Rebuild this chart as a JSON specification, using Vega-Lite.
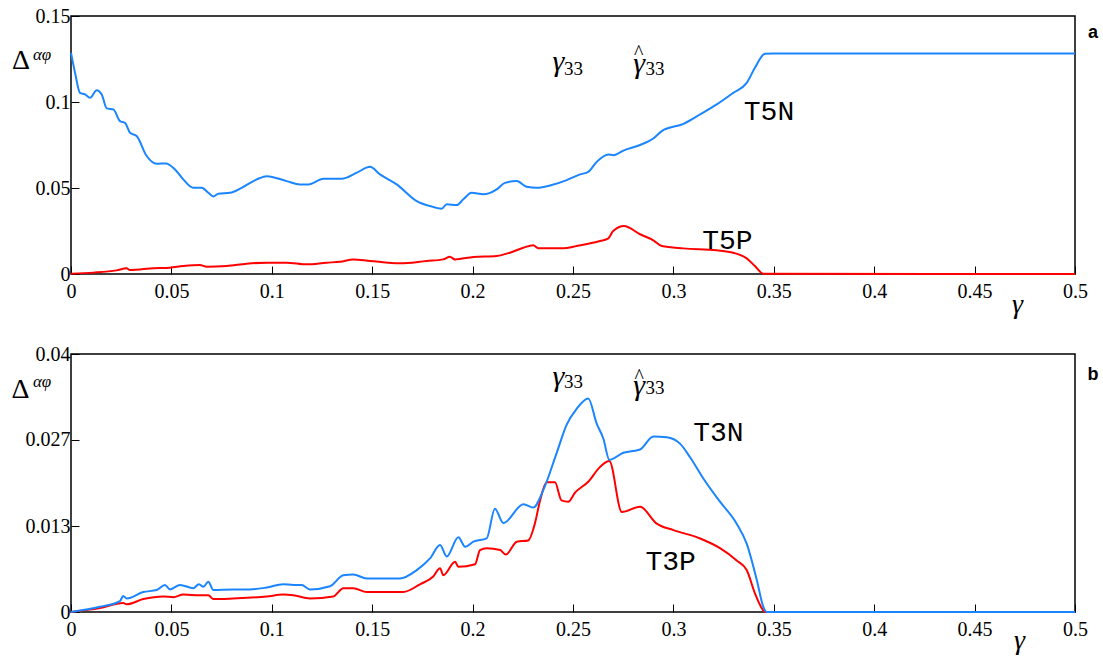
{
  "$schema": "https://vega.github.io/schema/vega-lite/v6.json",
  "padding": {"left": 10, "top": 5, "right": 5, "bottom": 5},
  "spacing": 80,
  "bounds": "flush",
  "config": {
    "font": "Liberation Serif",
    "view": {"stroke": "black", "strokeWidth": 1.5},
    "axis": {"labelFont": "Liberation Serif", "labelFontSize": 20, "labelColor": "black", "tickColor": "black", "tickWidth": 1, "domain": false, "grid": false, "labelFlush": false},
    "line": {"interpolate": "monotone", "strokeWidth": 2}
  },
  "vconcat": [
    {
      "width": 1004,
      "height": 258,
      "encoding": {
        "x": {"field": "g", "type": "quantitative", "scale": {"domain": [0, 0.5], "nice": false, "zero": false},
              "axis": {"labelFont": "Liberation Serif", "values": [0,0.05,0.1,0.15,0.2,0.25,0.3,0.35,0.4,0.45,0.5], "format": ".2~f", "tickSize": -8, "labelPadding": 15,
                       "title": "γ", "titleFont": "Liberation Serif", "titleFontStyle": "italic", "titleFontWeight": "normal", "titleFontSize": 28, "titleColor": "black", "titleX": 946, "titleY": 30, "titleBaseline": "middle", "titleAlign": "center"}},
        "y": {"field": "d", "type": "quantitative", "scale": {"domain": [0, 0.15], "nice": false},
              "axis": {"labelFont": "Liberation Serif", "values": [0,0.05,0.1,0.15], "format": ".2~f", "tickSize": -8, "labelPadding": 9, "title": null}}
      },
      "layer": [
        {"data": {"values": [{"g": 0.2577}, {"g": 0.2752}]}, "mark": {"type": "rule", "color": "#ff33ff", "strokeDash": [3, 2], "strokeWidth": 1.2}, "encoding": {"y": {"datum": 0}, "y2": {"datum": 0.15}}},
        {"data": {"values": [{"g":0,"d":0.0002},{"g":0.0111,"d":0.0008},{"g":0.0227,"d":0.0021},{"g":0.0277,"d":0.0033},{"g":0.0294,"d":0.0023},{"g":0.041,"d":0.0033},{"g":0.0493,"d":0.0037},{"g":0.0559,"d":0.0046},{"g":0.0642,"d":0.0052},{"g":0.0676,"d":0.0042},{"g":0.0775,"d":0.0046},{"g":0.0875,"d":0.006},{"g":0.0975,"d":0.0066},{"g":0.1074,"d":0.0066},{"g":0.1174,"d":0.0056},{"g":0.1273,"d":0.0066},{"g":0.134,"d":0.0071},{"g":0.1406,"d":0.0085},{"g":0.1489,"d":0.0076},{"g":0.1638,"d":0.0062},{"g":0.1771,"d":0.0076},{"g":0.1854,"d":0.0085},{"g":0.1887,"d":0.01},{"g":0.1912,"d":0.0085},{"g":0.2004,"d":0.0099},{"g":0.212,"d":0.0105},{"g":0.2186,"d":0.0124},{"g":0.2253,"d":0.0153},{"g":0.2302,"d":0.0167},{"g":0.2327,"d":0.0149},{"g":0.2452,"d":0.0149},{"g":0.2518,"d":0.0163},{"g":0.2576,"d":0.0176},{"g":0.2635,"d":0.0192},{"g":0.2676,"d":0.0207},{"g":0.27,"d":0.025},{"g":0.2754,"d":0.0279},{"g":0.2834,"d":0.0231},{"g":0.29,"d":0.0196},{"g":0.2942,"d":0.0163},{"g":0.305,"d":0.0149},{"g":0.3216,"d":0.0138},{"g":0.3298,"d":0.0124},{"g":0.3365,"d":0.0091},{"g":0.3406,"d":0.0046},{"g":0.3448,"d":0.0002},{"g":0.5,"d":0}]}, "mark": {"type": "line", "color": "#ff0000"}},
        {"data": {"values": [{"g":0,"d":0.1286},{"g":0.002,"d":0.117},{"g":0.0045,"d":0.1053},{"g":0.007,"d":0.1044},{"g":0.0095,"d":0.1024},{"g":0.0128,"d":0.1069},{"g":0.0153,"d":0.1044},{"g":0.0178,"d":0.0963},{"g":0.0211,"d":0.0957},{"g":0.0244,"d":0.0889},{"g":0.0269,"d":0.0879},{"g":0.0294,"d":0.0821},{"g":0.0327,"d":0.0802},{"g":0.0377,"d":0.0686},{"g":0.0427,"d":0.0641},{"g":0.0473,"d":0.0643},{"g":0.0518,"d":0.0608},{"g":0.0559,"d":0.055},{"g":0.0609,"d":0.0501},{"g":0.0651,"d":0.0501},{"g":0.0684,"d":0.0472},{"g":0.0709,"d":0.0451},{"g":0.0734,"d":0.0467},{"g":0.0792,"d":0.0472},{"g":0.085,"d":0.0501},{"g":0.0925,"d":0.055},{"g":0.0975,"d":0.0569},{"g":0.1074,"d":0.054},{"g":0.114,"d":0.0521},{"g":0.1182,"d":0.0521},{"g":0.1257,"d":0.0554},{"g":0.1348,"d":0.0554},{"g":0.1423,"d":0.0589},{"g":0.1489,"d":0.0623},{"g":0.1539,"d":0.0579},{"g":0.1622,"d":0.0521},{"g":0.1722,"d":0.0424},{"g":0.1788,"d":0.0395},{"g":0.1846,"d":0.038},{"g":0.1871,"d":0.0405},{"g":0.1921,"d":0.0401},{"g":0.1954,"d":0.0434},{"g":0.1995,"d":0.0472},{"g":0.2053,"d":0.0463},{"g":0.212,"d":0.0492},{"g":0.2161,"d":0.053},{"g":0.222,"d":0.054},{"g":0.2269,"d":0.0507},{"g":0.2319,"d":0.0501},{"g":0.2394,"d":0.0517},{"g":0.2469,"d":0.0546},{"g":0.2535,"d":0.0579},{"g":0.2576,"d":0.0594},{"g":0.2618,"d":0.0652},{"g":0.2676,"d":0.0695},{"g":0.27,"d":0.0691},{"g":0.2754,"d":0.0719},{"g":0.2834,"d":0.075},{"g":0.29,"d":0.0788},{"g":0.2942,"d":0.0831},{"g":0.305,"d":0.0873},{"g":0.3133,"d":0.0928},{"g":0.3216,"d":0.0986},{"g":0.3298,"d":0.1053},{"g":0.3365,"d":0.1111},{"g":0.3406,"d":0.1199},{"g":0.3456,"d":0.128},{"g":0.3498,"d":0.1282},{"g":0.5,"d":0.1282}]}, "mark": {"type": "line", "color": "#1a85ff"}},
        {"data": {"values": [{"g": 0.3476, "d": 0.0943, "t": "T5N"}, {"g": 0.3269, "d": 0.0192, "t": "T5P"}]},
         "mark": {"type": "text", "font": "Liberation Mono", "fontSize": 28, "color": "black", "align": "center", "baseline": "middle"}, "encoding": {"text": {"field": "t"}}},
        {"data": {"values": [{"g": 0.2427, "d": 0.1232, "t": "γ"}, {"g": 0.2829, "d": 0.122, "t": "γ"}]},
         "mark": {"type": "text", "font": "Liberation Serif", "fontStyle": "italic", "fontSize": 30, "color": "black", "align": "center", "baseline": "middle"}, "encoding": {"text": {"field": "t"}}},
        {"data": {"values": [{"g": 0.2827, "d": 0.1286, "t": "^"}]},
         "mark": {"type": "text", "font": "Liberation Serif", "fontSize": 20, "color": "black", "align": "center", "baseline": "middle"}, "encoding": {"text": {"field": "t"}}},
        {"data": {"values": [{"g": 0.2502, "d": 0.1194, "t": "33"}, {"g": 0.2908, "d": 0.1194, "t": "33"}]},
         "mark": {"type": "text", "font": "Liberation Serif", "fontSize": 19, "color": "black", "align": "center", "baseline": "middle"}, "encoding": {"text": {"field": "t"}}},
        {"data": {"values": [{"g": -0.0249, "d": 0.1238, "t": "Δ"}]},
         "mark": {"type": "text", "font": "Liberation Serif", "fontSize": 28, "color": "black", "align": "center", "baseline": "middle"}, "encoding": {"text": {"field": "t"}}},
        {"data": {"values": [{"g": -0.0144, "d": 0.1272, "t": "αφ"}]},
         "mark": {"type": "text", "font": "Liberation Serif", "fontStyle": "italic", "fontSize": 17, "color": "black", "align": "center", "baseline": "middle"}, "encoding": {"text": {"field": "t"}}},
        {"data": {"values": [{"g": 0.509, "d": 0.14, "t": "a"}]},
         "mark": {"type": "text", "font": "Liberation Sans", "fontWeight": "bold", "fontSize": 18, "color": "black", "align": "center", "baseline": "middle"}, "encoding": {"text": {"field": "t"}}}
      ]
    },
    {
      "width": 1004,
      "height": 258,
      "encoding": {
        "x": {"field": "g", "type": "quantitative", "scale": {"domain": [0, 0.5], "nice": false, "zero": false},
              "axis": {"labelFont": "Liberation Serif", "values": [0,0.05,0.1,0.15,0.2,0.25,0.3,0.35,0.4,0.45,0.5], "format": ".2~f", "tickSize": -8, "labelPadding": 15,
                       "title": "γ", "titleFont": "Liberation Serif", "titleFontStyle": "italic", "titleFontWeight": "normal", "titleFontSize": 28, "titleColor": "black", "titleX": 948, "titleY": 28, "titleBaseline": "middle", "titleAlign": "center"}},
        "y": {"field": "d", "type": "quantitative", "scale": {"domain": [0, 0.04], "nice": false},
              "axis": {"labelFont": "Liberation Serif", "values": [0, 0.013333, 0.026667, 0.04], "format": ".3~f", "tickSize": -8, "labelPadding": 9, "title": null}}
      },
      "layer": [
        {"data": {"values": [{"g": 0.2577}, {"g": 0.2752}]}, "mark": {"type": "rule", "color": "#ff33ff", "strokeDash": [3, 2], "strokeWidth": 1.2}, "encoding": {"y": {"datum": 0}, "y2": {"datum": 0.04}}},
        {"data": {"values": [{"g":0,"d":0},{"g":0.0144,"d":0.0006},{"g":0.026,"d":0.0014},{"g":0.0277,"d":0.0012},{"g":0.036,"d":0.002},{"g":0.046,"d":0.0024},{"g":0.051,"d":0.0023},{"g":0.0559,"d":0.0027},{"g":0.0642,"d":0.0026},{"g":0.0684,"d":0.0026},{"g":0.0709,"d":0.002},{"g":0.0808,"d":0.0021},{"g":0.0975,"d":0.0024},{"g":0.1057,"d":0.0027},{"g":0.1107,"d":0.0026},{"g":0.119,"d":0.0021},{"g":0.1306,"d":0.0024},{"g":0.1356,"d":0.0037},{"g":0.1406,"d":0.0037},{"g":0.1473,"d":0.0031},{"g":0.1655,"d":0.0031},{"g":0.1738,"d":0.0043},{"g":0.1804,"d":0.0055},{"g":0.1838,"d":0.0068},{"g":0.1854,"d":0.0057},{"g":0.1913,"d":0.0078},{"g":0.1929,"d":0.007},{"g":0.2012,"d":0.0074},{"g":0.2037,"d":0.0096},{"g":0.207,"d":0.0099},{"g":0.2137,"d":0.0096},{"g":0.2166,"d":0.0089},{"g":0.222,"d":0.0109},{"g":0.2277,"d":0.0111},{"g":0.231,"d":0.0137},{"g":0.2336,"d":0.0173},{"g":0.2369,"d":0.0201},{"g":0.241,"d":0.0201},{"g":0.2443,"d":0.0173},{"g":0.2476,"d":0.0171},{"g":0.251,"d":0.0185},{"g":0.2576,"d":0.0202},{"g":0.2635,"d":0.0225},{"g":0.2681,"d":0.0234},{"g":0.2743,"d":0.0155},{"g":0.2834,"d":0.0163},{"g":0.2917,"d":0.0137},{"g":0.3,"d":0.0127},{"g":0.3133,"d":0.0114},{"g":0.3232,"d":0.0099},{"g":0.3315,"d":0.008},{"g":0.3365,"d":0.0065},{"g":0.3406,"d":0.0029},{"g":0.344,"d":0.0006},{"g":0.3456,"d":0},{"g":0.5,"d":0}]}, "mark": {"type": "line", "color": "#ff0000"}},
        {"data": {"values": [{"g":0,"d":0},{"g":0.0144,"d":0.0008},{"g":0.0244,"d":0.0017},{"g":0.026,"d":0.0025},{"g":0.0277,"d":0.0021},{"g":0.036,"d":0.0031},{"g":0.0427,"d":0.0034},{"g":0.0468,"d":0.0042},{"g":0.0493,"d":0.0035},{"g":0.0543,"d":0.0042},{"g":0.0609,"d":0.0037},{"g":0.0637,"d":0.0043},{"g":0.0659,"d":0.0039},{"g":0.0684,"d":0.0047},{"g":0.0709,"d":0.0034},{"g":0.0808,"d":0.0035},{"g":0.0891,"d":0.0035},{"g":0.0975,"d":0.0038},{"g":0.1057,"d":0.0043},{"g":0.1107,"d":0.0042},{"g":0.1149,"d":0.0042},{"g":0.119,"d":0.0035},{"g":0.129,"d":0.004},{"g":0.1356,"d":0.0057},{"g":0.1406,"d":0.0058},{"g":0.1473,"d":0.0052},{"g":0.1638,"d":0.0052},{"g":0.1722,"d":0.0065},{"g":0.1788,"d":0.0083},{"g":0.1838,"d":0.0104},{"g":0.1871,"d":0.0086},{"g":0.1929,"d":0.0116},{"g":0.1963,"d":0.0101},{"g":0.2004,"d":0.0109},{"g":0.207,"d":0.0114},{"g":0.2111,"d":0.016},{"g":0.2153,"d":0.0138},{"g":0.2253,"d":0.0167},{"g":0.2302,"d":0.0162},{"g":0.2352,"d":0.0189},{"g":0.2418,"d":0.0246},{"g":0.2468,"d":0.029},{"g":0.2518,"d":0.0315},{"g":0.2576,"d":0.0331},{"g":0.2618,"d":0.0292},{"g":0.2651,"d":0.0269},{"g":0.2681,"d":0.0236},{"g":0.2751,"d":0.0247},{"g":0.2834,"d":0.0252},{"g":0.29,"d":0.0272},{"g":0.2967,"d":0.0271},{"g":0.3033,"d":0.0261},{"g":0.3083,"d":0.024},{"g":0.3149,"d":0.0207},{"g":0.3232,"d":0.0171},{"g":0.3315,"d":0.0137},{"g":0.3365,"d":0.0106},{"g":0.3415,"d":0.005},{"g":0.3448,"d":0.0008},{"g":0.3465,"d":0},{"g":0.5,"d":0}]}, "mark": {"type": "line", "color": "#1a85ff"}},
        {"data": {"values": [{"g": 0.3224, "d": 0.0277, "t": "T3N"}, {"g": 0.2986, "d": 0.0077, "t": "T3P"}]},
         "mark": {"type": "text", "font": "Liberation Mono", "fontSize": 28, "color": "black", "align": "center", "baseline": "middle"}, "encoding": {"text": {"field": "t"}}},
        {"data": {"values": [{"g": 0.2427, "d": 0.0365, "t": "γ"}, {"g": 0.2829, "d": 0.035, "t": "γ"}]},
         "mark": {"type": "text", "font": "Liberation Serif", "fontStyle": "italic", "fontSize": 30, "color": "black", "align": "center", "baseline": "middle"}, "encoding": {"text": {"field": "t"}}},
        {"data": {"values": [{"g": 0.283, "d": 0.0364, "t": "^"}]},
         "mark": {"type": "text", "font": "Liberation Serif", "fontSize": 20, "color": "black", "align": "center", "baseline": "middle"}, "encoding": {"text": {"field": "t"}}},
        {"data": {"values": [{"g": 0.2502, "d": 0.0356, "t": "33"}, {"g": 0.2908, "d": 0.0347, "t": "33"}]},
         "mark": {"type": "text", "font": "Liberation Serif", "fontSize": 19, "color": "black", "align": "center", "baseline": "middle"}, "encoding": {"text": {"field": "t"}}},
        {"data": {"values": [{"g": -0.0251, "d": 0.0344, "t": "Δ"}]},
         "mark": {"type": "text", "font": "Liberation Serif", "fontSize": 28, "color": "black", "align": "center", "baseline": "middle"}, "encoding": {"text": {"field": "t"}}},
        {"data": {"values": [{"g": -0.0144, "d": 0.0356, "t": "αφ"}]},
         "mark": {"type": "text", "font": "Liberation Serif", "fontStyle": "italic", "fontSize": 17, "color": "black", "align": "center", "baseline": "middle"}, "encoding": {"text": {"field": "t"}}},
        {"data": {"values": [{"g": 0.509, "d": 0.0368, "t": "b"}]},
         "mark": {"type": "text", "font": "Liberation Sans", "fontWeight": "bold", "fontSize": 18, "color": "black", "align": "center", "baseline": "middle"}, "encoding": {"text": {"field": "t"}}}
      ]
    }
  ]
}
